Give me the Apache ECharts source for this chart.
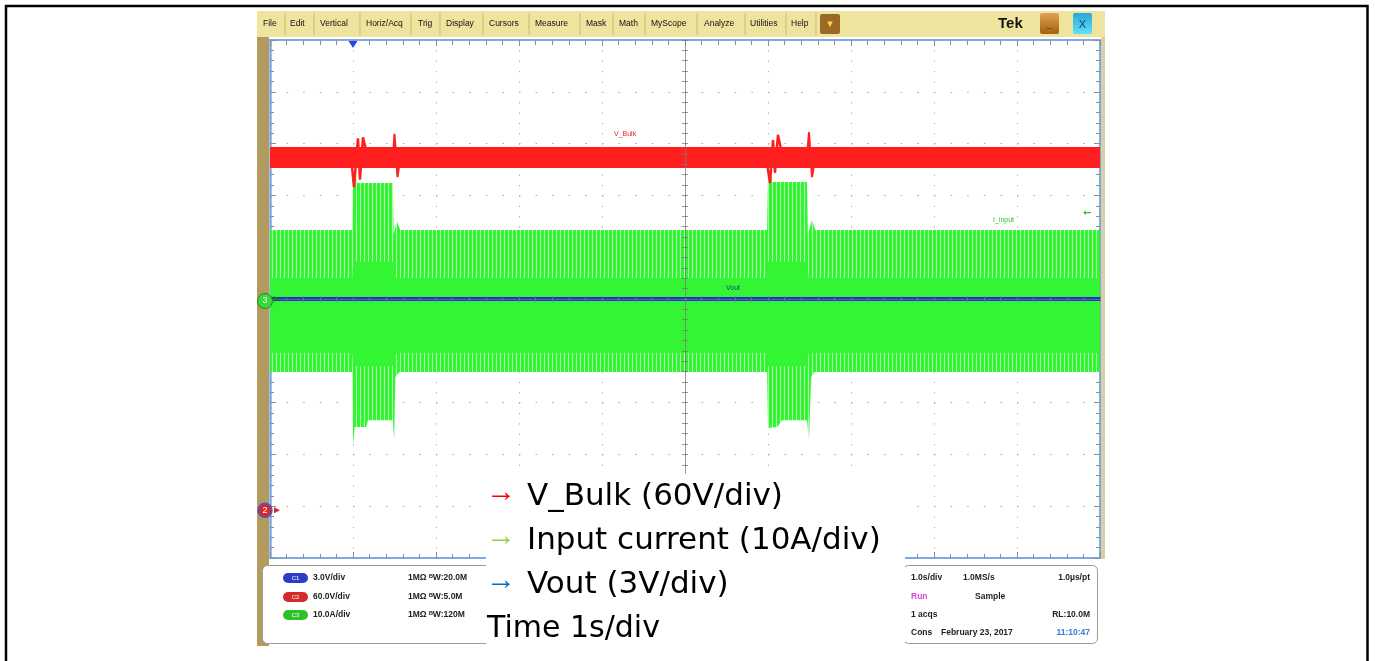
<!DOCTYPE html>
<html><head><meta charset="utf-8">
<script src="https://cdn.jsdelivr.net/npm/echarts@6/dist/echarts.min.js"></script>
<style>html,body{margin:0;padding:0;background:#fff}#c{width:1375px;height:661px}</style>
</head><body><div id="c"></div>
<script>
// ================= DATA =================
// time axis: 1 s/div, 10 divisions, values in seconds
const timeMinS = 0, timeMaxS = 10;
const divisionsY = [-5, 5];

// channel settings (scale per division, ground position in divisions)
const ch1VoutScale = 3,  ch1VoutGroundDiv = 0;      // 3 V/div
const ch2BulkScale = 60, ch2BulkGroundDiv = -4.08;  // 60 V/div
const ch3IinScale = 10,  ch3IinGroundDiv = 0;       // 10 A/div

// V_Bulk ripple band [t(s), V]
const vBulkUpper = [[0, 421], [10, 421]];
const vBulkLower = [[0, 396.5], [10, 396.5]];
// V_Bulk transients [t(s), V]
const vBulkTransient1 = [[0.976, 410], [1.012, 374.5], [1.06, 431], [1.084, 383], [1.12, 432], [1.17, 412]];
const vBulkSpike1 = [[1.482, 410], [1.5, 436], [1.536, 386], [1.566, 406]];
const vBulkTransient2 = [[5.976, 410], [6.024, 379], [6.06, 429], [6.084, 391], [6.12, 435], [6.17, 412]];
const vBulkSpike2 = [[6.47, 410], [6.494, 438], [6.53, 386], [6.566, 406]];

// Input current envelope: outer (pulse peaks) and inner (dense core) [t(s), A]
const iinOuterUpper = [[0, 13.3], [0.99, 13.3], [1.0, 24.0], [1.04, 24.0], [1.05, 22.4], [1.48, 22.4], [1.49, 12.5], [1.53, 14.9], [1.57, 13.3],
  [5.99, 13.3], [6.0, 23.8], [6.04, 23.8], [6.05, 22.6], [6.47, 22.6], [6.48, 12.5], [6.53, 15.2], [6.57, 13.3], [10, 13.3]];
const iinOuterLower = [[0, -14.1], [0.99, -14.1], [1.0, -28.2], [1.02, -24.7], [1.16, -24.7], [1.18, -23.4], [1.48, -23.4], [1.495, -27.2], [1.51, -15.1], [1.56, -14.1],
  [5.99, -14.1], [6.0, -24.9], [6.11, -24.7], [6.17, -23.4], [6.47, -23.4], [6.494, -27.2], [6.52, -15.1], [6.56, -14.1], [10, -14.1]];
const iinInnerUpper = [[0, 4.0], [0.99, 4.0], [1.0, 7.2], [1.48, 7.2], [1.5, 4.0], [5.99, 4.0], [6.0, 7.2], [6.47, 7.2], [6.49, 4.0], [10, 4.0]];
const iinInnerLower = [[0, -10.4], [0.99, -10.4], [1.0, -13.0], [1.48, -13.0], [1.5, -10.4], [5.99, -10.4], [6.0, -13.0], [6.47, -13.0], [6.49, -10.4], [10, -10.4]];

// Vout [t(s), V]
const voutTrace = [[0, 0], [2.5, 0], [5, 0], [7.5, 0], [10, 0]];

// trigger time (s)
const triggerTimeS = 1.0;

// text
const legendLines = ['V_Bulk (60V/div)', 'Input current (10A/div)', 'Vout (3V/div)'];
const timeLabel = 'Time 1s/div';
const menuItems = ['File', 'Edit', 'Vertical', 'Horiz/Acq', 'Trig', 'Display', 'Cursors', 'Measure', 'Mask', 'Math', 'MyScope', 'Analyze', 'Utilities', 'Help'];
const chanScales = ['3.0V/div', '60.0V/div', '10.0A/div'];
const chanInfo = ['1MΩ ᴮW:20.0M', '1MΩ ᴮW:5.0M', '1MΩ ᴮW:120M'];

// ================= BUILD =================
const toDiv = (arr, scale, ground) => arr.map(p => [p[0], p[1] / scale + ground]);
const bulk = a => toDiv(a, ch2BulkScale, ch2BulkGroundDiv);
const iin = a => toDiv(a, ch3IinScale, ch3IinGroundDiv);
const vout = a => toDiv(a, ch1VoutScale, ch1VoutGroundDiv);

function stripe(base, line, period, alphaLine) {
  const c = document.createElement('canvas'); c.width = period; c.height = 8;
  const g = c.getContext('2d'); g.fillStyle = base; g.fillRect(0, 0, period, 8);
  g.globalAlpha = alphaLine; g.fillStyle = line; g.fillRect(0, 0, 1, 8);
  return { image: c, repeat: 'repeat' };
}
const GREEN = '#33f533', RED = '#ff1f1f', BLUE = '#1d2fd6';

function band(upper, lower, fill, z) {
  return {
    type: 'custom', coordinateSystem: 'cartesian2d', xAxisIndex: 0, yAxisIndex: 0, z: z, silent: true,
    data: [[upper[0][0], upper[0][1]]],
    renderItem: function (params, api) {
      const pts = upper.map(p => api.coord(p)).concat(lower.slice().reverse().map(p => api.coord(p)));
      return { type: 'polygon', shape: { points: pts }, style: { fill: fill } };
    }
  };
}
function line(data, color, width, z) {
  return { type: 'line', xAxisIndex: 0, yAxisIndex: 0, data: data, showSymbol: false, symbol: 'none', z: z, silent: true,
    lineStyle: { color: color, width: width }, clip: true };
}

const tickGray = '#8e8e8e';
const borderBlue = '#7ea8e6';
const centerGray = 'rgba(120,120,120,0.75)';
const dotGray = '#a9a9a9';
const divH = 518 / 10, divW = 830 / 10;

const baseX = { type: 'value', min: timeMinS, max: timeMaxS, interval: 1, axisLabel: { show: false } };
const baseY = { type: 'value', min: divisionsY[0], max: divisionsY[1], interval: 1, axisLabel: { show: false } };

const xAxes = [
  Object.assign({}, baseX, { position: 'bottom', axisLine: { onZero: false, lineStyle: { color: borderBlue, width: 2 } },
    axisTick: { inside: true, length: 6, lineStyle: { color: tickGray } }, minorTick: { show: true, splitNumber: 5, length: 4, lineStyle: { color: tickGray } },
    splitLine: { show: true, lineStyle: { color: dotGray, width: 1, type: [1.2, divH / 5 - 1.2] } } }),
  Object.assign({}, baseX, { position: 'top', axisLine: { onZero: false, lineStyle: { color: borderBlue, width: 2 } },
    axisTick: { inside: true, length: 6, lineStyle: { color: tickGray } }, minorTick: { show: true, splitNumber: 5, length: 5, lineStyle: { color: tickGray } },
    splitLine: { show: false } }),
  Object.assign({}, baseX, { position: 'bottom', z: 10, axisLine: { onZero: true, onZeroAxisIndex: 0, lineStyle: { color: centerGray, width: 1 } },
    axisTick: { inside: true, length: 3, lineStyle: { color: centerGray } }, minorTick: { show: true, splitNumber: 5, length: 3, lineStyle: { color: centerGray } },
    splitLine: { show: false } }),
  Object.assign({}, baseX, { position: 'bottom', z: 10, axisLine: { show: false, onZero: true, onZeroAxisIndex: 0 },
    axisTick: { inside: false, length: 3, lineStyle: { color: centerGray } }, minorTick: { show: true, splitNumber: 5, length: 3, lineStyle: { color: centerGray } },
    splitLine: { show: false } }),
  { type: 'value', min: -5, max: 5, show: false, axisLine: { onZero: false } }
];
const yAxes = [
  Object.assign({}, baseY, { position: 'left', axisLine: { onZero: false, lineStyle: { color: borderBlue, width: 2.5 } },
    axisTick: { inside: true, length: 6, lineStyle: { color: tickGray } }, minorTick: { show: true, splitNumber: 5, length: 4, lineStyle: { color: tickGray } },
    splitLine: { show: true, lineStyle: { color: dotGray, width: 1, type: [1.5, divW / 5 - 1.5] } } }),
  Object.assign({}, baseY, { position: 'right', axisLine: { onZero: false, lineStyle: { color: borderBlue, width: 2 } },
    axisTick: { inside: true, length: 6, lineStyle: { color: tickGray } }, minorTick: { show: true, splitNumber: 5, length: 4, lineStyle: { color: tickGray } },
    splitLine: { show: false } }),
  Object.assign({}, baseY, { position: 'left', z: 10, axisLine: { onZero: true, onZeroAxisIndex: 4, lineStyle: { color: centerGray, width: 1 } },
    axisTick: { inside: true, length: 3, lineStyle: { color: centerGray } }, minorTick: { show: true, splitNumber: 5, length: 3, lineStyle: { color: centerGray } },
    splitLine: { show: false } }),
  Object.assign({}, baseY, { position: 'left', z: 10, axisLine: { show: false, onZero: true, onZeroAxisIndex: 4 },
    axisTick: { inside: false, length: 3, lineStyle: { color: centerGray } }, minorTick: { show: true, splitNumber: 5, length: 3, lineStyle: { color: centerGray } },
    splitLine: { show: false } })
];

const series = [
  band(iin(iinOuterUpper), iin(iinOuterLower), stripe(GREEN, '#ffffff', 4, 0.6), 2),
  band(iin(iinInnerUpper), iin(iinInnerLower), GREEN, 3),
  band(bulk(vBulkUpper), bulk(vBulkLower), RED, 4),
  line(bulk(vBulkTransient1), RED, 2.5, 5),
  line(bulk(vBulkSpike1), RED, 2, 5),
  line(bulk(vBulkTransient2), RED, 2.5, 5),
  line(bulk(vBulkSpike2), RED, 2, 5),
  line(vout(voutTrace), BLUE, 4, 6)
];

// ---------- static decorations (scope UI frame) ----------
const UI = 'Liberation Sans, Arial, sans-serif';
const menuX = [263, 290, 320, 366, 418, 446, 489, 535, 586, 619, 651, 704, 750, 791];
const sepX = [285, 314, 360, 411, 440, 483, 529, 580, 613, 645, 697, 745, 786, 816];
const g = [];
g.push({ type: 'rect', z: 1, shape: { x: 257, y: 11, width: 848, height: 26 }, style: { fill: '#efe49e' } });
g.push({ type: 'rect', z: 1, shape: { x: 257, y: 37, width: 12, height: 609 }, style: { fill: '#b39a5e' } });
g.push({ type: 'rect', z: 1, shape: { x: 1101, y: 37, width: 4, height: 522 }, style: { fill: '#d9cfa8' } });
menuItems.forEach((m, i) => g.push({ type: 'text', z: 101, x: menuX[i], y: 24, style: { text: m, font: '8.5px ' + UI, fill: '#111', verticalAlign: 'middle' } }));
sepX.forEach(x => g.push({ type: 'line', z: 101, shape: { x1: x, y1: 13, x2: x, y2: 35 }, style: { stroke: '#c9bb7c', lineWidth: 1 } }));
g.push({ type: 'rect', z: 101, shape: { x: 820, y: 14, width: 20, height: 20, r: 2 }, style: { fill: '#9a6a24' } });
g.push({ type: 'text', z: 102, x: 830, y: 24, style: { text: '▾', font: '11px DejaVu Sans', fill: '#ffd44a', align: 'center', verticalAlign: 'middle' } });
g.push({ type: 'text', z: 101, x: 998, y: 24, style: { text: 'Tek', font: 'bold 15px ' + UI, fill: '#151515', verticalAlign: 'middle' } });
g.push({ type: 'rect', z: 101, shape: { x: 1040, y: 13, width: 19, height: 21, r: 2 }, style: { fill: new echarts.graphic.LinearGradient(0, 0, 0, 1, [{ offset: 0, color: '#e2a254' }, { offset: 1, color: '#a4600f' }]) } });
g.push({ type: 'text', z: 102, x: 1049.5, y: 24, style: { text: '_', font: 'bold 11px ' + UI, fill: '#3a2608', align: 'center', verticalAlign: 'middle' } });
g.push({ type: 'rect', z: 101, shape: { x: 1073, y: 13, width: 19, height: 21, r: 2 }, style: { fill: new echarts.graphic.LinearGradient(0, 0, 0, 1, [{ offset: 0, color: '#2aa6d8' }, { offset: 1, color: '#60e0ff' }]) } });
g.push({ type: 'text', z: 102, x: 1082.5, y: 24.5, style: { text: 'X', font: '11px ' + UI, fill: '#1b3b55', align: 'center', verticalAlign: 'middle' } });

// trace labels
g.push({ type: 'text', z: 50, x: 614, y: 134, style: { text: 'V_Bulk', font: '7px ' + UI, fill: '#ee2020', verticalAlign: 'middle' } });
g.push({ type: 'text', z: 50, x: 993, y: 220, style: { text: 'I_input', font: '7px ' + UI, fill: '#2cc62c', verticalAlign: 'middle' } });
g.push({ type: 'text', z: 50, x: 726, y: 288, style: { text: 'Vout', font: '7px ' + UI, fill: '#0d4a6a', verticalAlign: 'middle' } });
g.push({ type: 'text', z: 50, x: 1083, y: 213, style: { text: '←', font: 'bold 10px DejaVu Sans', fill: '#2cc62c', verticalAlign: 'middle' } });

// info boxes
g.push({ type: 'rect', z: 30, shape: { x: 262.5, y: 565.5, width: 330, height: 78, r: 5 }, style: { fill: '#fff', stroke: '#9a9a9a', lineWidth: 1 } });
const pillCol = ['#2b3cc6', '#d42a2a', '#2cc22c'];
const rowsY = [578, 597, 615];
rowsY.forEach((y, i) => {
  g.push({ type: 'rect', z: 31, shape: { x: 283, y: y - 5, width: 25, height: 10, r: 5 }, style: { fill: pillCol[i] } });
  g.push({ type: 'text', z: 32, x: 295.5, y: y, style: { text: 'C' + (i + 1), font: '6px ' + UI, fill: '#fff', align: 'center', verticalAlign: 'middle' } });
  g.push({ type: 'text', z: 32, x: 313, y: y, style: { text: chanScales[i], font: 'bold 8.5px ' + UI, fill: '#222', verticalAlign: 'middle' } });
  g.push({ type: 'text', z: 32, x: 408, y: y, style: { text: chanInfo[i], font: 'bold 8.5px ' + UI, fill: '#222', verticalAlign: 'middle' } });
});
g.push({ type: 'rect', z: 30, shape: { x: 903.5, y: 565.5, width: 194, height: 78, r: 5 }, style: { fill: '#fff', stroke: '#9a9a9a', lineWidth: 1 } });
const rt = (x, y, t, col, al) => g.push({ type: 'text', z: 32, x: x, y: y, style: { text: t, font: 'bold 8.5px ' + UI, fill: col || '#222', align: al || 'left', verticalAlign: 'middle' } });
rt(911, 578, '1.0s/div'); rt(963, 578, '1.0MS/s'); rt(1090, 578, '1.0µs/pt', null, 'right');
rt(911, 597, 'Run', '#e040e0'); rt(975, 597, 'Sample');
rt(911, 615, '1 acqs'); rt(1090, 615, 'RL:10.0M', null, 'right');
rt(911, 633, 'Cons'); rt(941, 633, 'February 23, 2017'); rt(1090, 633, '11:10:47', '#3a78d8', 'right');

// legend overlay
const LF = '31px DejaVu Sans, Verdana, sans-serif';
g.push({ type: 'rect', z: 60, shape: { x: 486, y: 474, width: 419, height: 175 }, style: { fill: '#fff' } });
const arrowCol = ['#ff0000', '#92d050', '#0070c0'];
const lineY = [497, 541, 585, 629];
legendLines.forEach((t, i) => {
  g.push({ type: 'text', z: 61, x: 486, y: lineY[i] - 4, style: { text: '→', font: '30px Liberation Sans, sans-serif', fill: arrowCol[i], verticalAlign: 'middle' } });
  g.push({ type: 'text', z: 61, x: 527, y: lineY[i], style: { text: t, font: LF, fill: '#000', verticalAlign: 'middle' } });
});
g.push({ type: 'text', z: 61, x: 487, y: lineY[3], style: { text: timeLabel, font: '30px DejaVu Sans, Verdana, sans-serif', fill: '#000', verticalAlign: 'middle' } });

// outer frame
g.push({ type: 'rect', z: 200, shape: { x: 6, y: 6, width: 1361.5, height: 700 }, style: { fill: 'none', stroke: '#000', lineWidth: 2.5 } });

const chart = echarts.init(document.getElementById('c'), null, { renderer: 'canvas' });
chart.setOption({
  animation: false,
  backgroundColor: '#fff',
  grid: { left: 270, top: 40, width: 830, height: 518, containLabel: false },
  xAxis: xAxes, yAxis: yAxes, series: series, graphic: g
});

// markers positioned through the axes
const pG3 = chart.convertToPixel({ xAxisIndex: 0, yAxisIndex: 0 }, [timeMinS, ch3IinGroundDiv]);
const pG2 = chart.convertToPixel({ xAxisIndex: 0, yAxisIndex: 0 }, [timeMinS, ch2BulkGroundDiv]);
const pTr = chart.convertToPixel({ xAxisIndex: 0, yAxisIndex: 0 }, [triggerTimeS, divisionsY[1]]);
const mk = [
  { type: 'polygon', z: 70, shape: { points: [[pTr[0] - 4.5, pTr[1] + 1], [pTr[0] + 4.5, pTr[1] + 1], [pTr[0], pTr[1] + 8]] }, style: { fill: '#2a48d8' } },
  { type: 'polygon', z: 70, shape: { points: [[pG3[0] + 4, pG3[1] - 3], [pG3[0] + 9, pG3[1]], [pG3[0] + 4, pG3[1] + 3]] }, style: { fill: '#1f7a1f' } },
  { type: 'circle', z: 71, shape: { cx: pG3[0] - 5, cy: pG3[1] + 2, r: 7.5 }, style: { fill: '#3ad83a', stroke: '#1d8a1d', lineWidth: 1 } },
  { type: 'text', z: 72, x: pG3[0] - 5, y: pG3[1] + 2, style: { text: '3', font: '9px ' + UI, fill: '#eaffea', align: 'center', verticalAlign: 'middle' } },
  { type: 'polygon', z: 70, shape: { points: [[pG2[0] + 4, pG2[1] - 3], [pG2[0] + 10, pG2[1]], [pG2[0] + 4, pG2[1] + 3]] }, style: { fill: '#d42a2a' } },
  { type: 'circle', z: 71, shape: { cx: pG2[0] - 5, cy: pG2[1], r: 7 }, style: { fill: '#d42a2a', stroke: '#4b55c8', lineWidth: 1.5 } },
  { type: 'text', z: 72, x: pG2[0] - 5, y: pG2[1], style: { text: '2', font: '9px ' + UI, fill: '#fff', align: 'center', verticalAlign: 'middle' } }
];
chart.setOption({ graphic: g.concat(mk) });
</script></body></html>
